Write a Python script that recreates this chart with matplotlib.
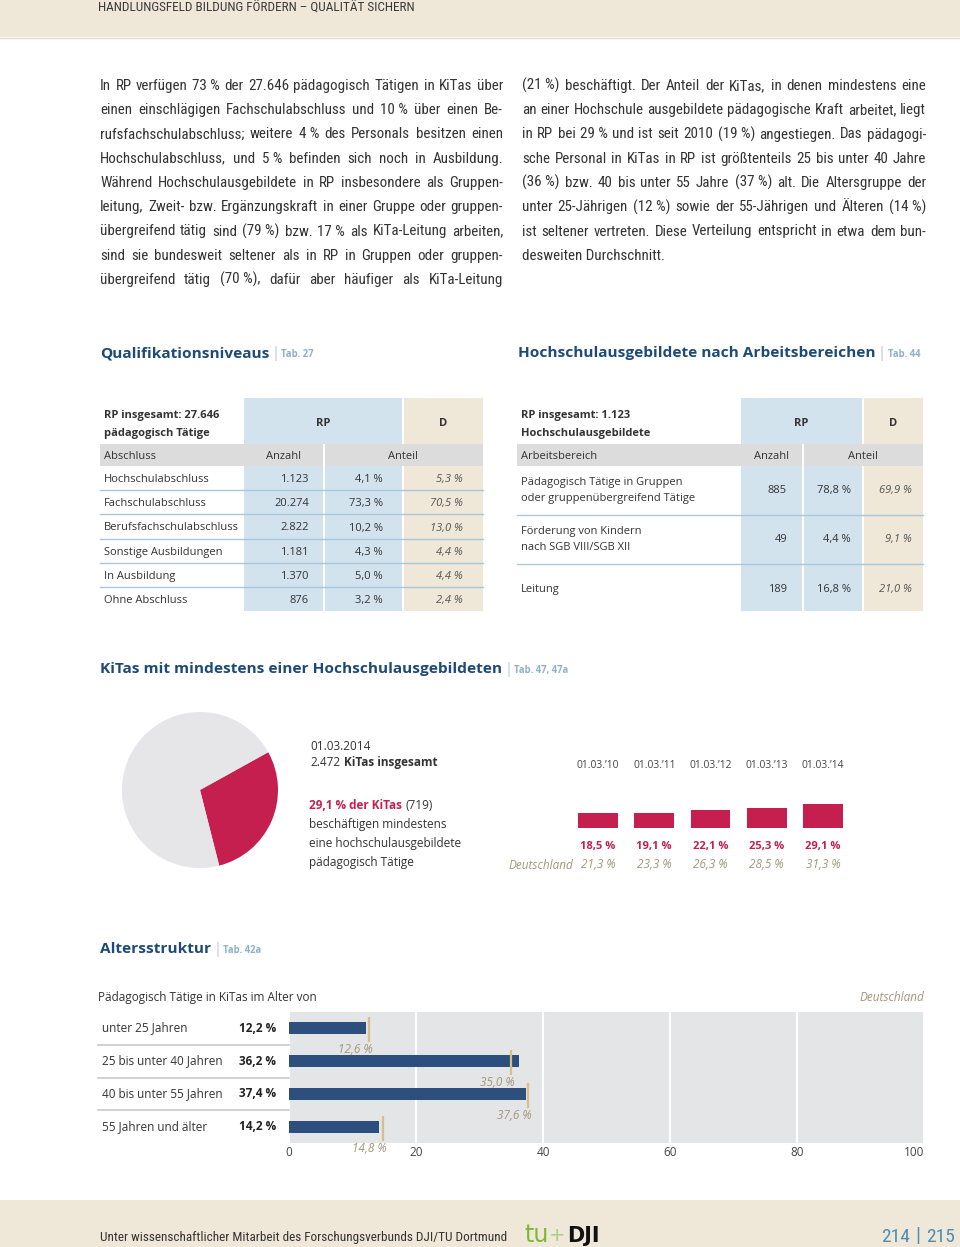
import matplotlib
matplotlib.use('Agg')
import matplotlib.pyplot as plt
from matplotlib import font_manager as fm
from matplotlib.patches import Rectangle
from matplotlib.transforms import blended_transform_factory as blend

# ---------------- data ----------------
header_title = "HANDLUNGSFELD BILDUNG FÖRDERN – QUALITÄT SICHERN"
footer_text = "Unter wissenschaftlicher Mitarbeit des Forschungsverbunds DJI/TU Dortmund"
page_numbers = ["214", "215"]

NB = "\u00a0"
body_left = [
    f"In RP verfügen 73{NB}% der 27.646 pädagogisch Tätigen in KiTas über",
    f"einen einschlägigen Fachschulabschluss und 10{NB}% über einen Be-",
    f"rufsfachschulabschluss; weitere 4{NB}% des Personals besitzen einen",
    f"Hochschulabschluss, und 5{NB}% befinden sich noch in Ausbildung.",
    "Während Hochschulausgebildete in RP insbesondere als Gruppen-",
    "leitung, Zweit- bzw. Ergänzungskraft in einer Gruppe oder gruppen-",
    f"übergreifend tätig sind (79{NB}%) bzw. 17{NB}% als KiTa-Leitung arbeiten,",
    "sind sie bundesweit seltener als in RP in Gruppen oder gruppen-",
    f"übergreifend tätig (70{NB}%), dafür aber häufiger als KiTa-Leitung",
]
body_right = [
    f"(21{NB}%) beschäftigt. Der Anteil der KiTas, in denen mindestens eine",
    "an einer Hochschule ausgebildete pädagogische Kraft arbeitet, liegt",
    f"in RP bei 29{NB}% und ist seit 2010 (19{NB}%) angestiegen. Das pädagogi-",
    "sche Personal in KiTas in RP ist größtenteils 25 bis unter 40 Jahre",
    f"(36{NB}%) bzw. 40 bis unter 55 Jahre (37{NB}%) alt. Die Altersgruppe der",
    f"unter 25-Jährigen (12{NB}%) sowie der 55-Jährigen und Älteren (14{NB}%)",
    "ist seltener vertreten. Diese Verteilung entspricht in etwa dem bun-",
    "desweiten Durchschnitt.",
]

headings = [
    ("Qualifikationsniveaus", "Tab. 27"),
    ("Hochschulausgebildete nach Arbeitsbereichen", "Tab. 44"),
    ("KiTas mit mindestens einer Hochschulausgebildeten", "Tab. 47, 47a"),
    ("Altersstruktur", "Tab. 42a"),
]

qual_title = ["RP insgesamt: 27.646", "pädagogisch Tätige"]
qual_head = ["Abschluss", "Anzahl", "Anteil"]
qual_labels = ["Hochschulabschluss", "Fachschulabschluss", "Berufsfachschulabschluss",
               "Sonstige Ausbildungen", "In Ausbildung", "Ohne Abschluss"]
qual_count = ["1.123", "20.274", "2.822", "1.181", "1.370", "876"]
qual_rp = [4.1, 73.3, 10.2, 4.3, 5.0, 3.2]
qual_d = [5.3, 70.5, 13.0, 4.4, 4.4, 2.4]

area_title = ["RP insgesamt: 1.123", "Hochschulausgebildete"]
area_head = ["Arbeitsbereich", "Anzahl", "Anteil"]
area_labels = [["Pädagogisch Tätige in Gruppen", "oder gruppenübergreifend Tätige"],
               ["Förderung von Kindern", "nach SGB VIII/SGB XII"],
               ["Leitung"]]
area_count = ["885", "49", "189"]
area_rp = [78.8, 4.4, 16.8]
area_d = [69.9, 9.1, 21.0]

kita_date = "01.03.2014"
kita_total = "2.472"
kita_share = [29.1, 70.9]
kita_count = "719"
kita_text = ["beschäftigen mindestens", "eine hochschulausgebildete", "pädagogisch Tätige"]
years = ["01.03.’10", "01.03.’11", "01.03.’12", "01.03.’13", "01.03.’14"]
kita_rp = [18.5, 19.1, 22.1, 25.3, 29.1]
kita_de = [21.3, 23.3, 26.3, 28.5, 31.3]

age_title = "Pädagogisch Tätige in KiTas im Alter von"
age_labels = ["unter 25 Jahren", "25 bis unter 40 Jahren", "40 bis unter 55 Jahren", "55 Jahren und älter"]
age_rp = [12.2, 36.2, 37.4, 14.2]
age_de = [12.6, 35.0, 37.6, 14.8]
age_ticks = [0, 20, 40, 60, 80, 100]

# ---------------- style ----------------
BEIGE = '#EFE7D7'
BLUE_T = '#D3E3EE'
GRAY = '#DCDCDC'
SEP = '#A9C7DB'
HEAD = '#1D4A78'
TABC = '#8FB1C8'
CRIM = '#C51F4F'
TAN_T = '#A3977A'
TAN_L = '#D9BE8C'
NAVY = '#2C4F7E'
CHART_BG = '#E4E5E7'
TXT = '#333333'

names = {f.name for f in fm.fontManager.ttflist}
UI = 'Open Sans' if 'Open Sans' in names else 'DejaVu Sans'
BODY = 'Roboto'
for cand in ['Liberation Sans Narrow', 'Roboto Condensed', 'Open Sans Condensed',
             'DejaVu Sans Condensed', 'Noto Sans Condensed', 'Roboto']:
    if cand in names:
        BODY = cand
        break


def pct(v, nb=NB):
    return f"{v:.1f}".replace('.', ',') + nb + "%"


W, H = 960, 1247
fig = plt.figure(figsize=(W / 100, H / 100), dpi=100)
page = fig.add_axes([0, 0, 1, 1])
page.set_xlim(0, W)
page.set_ylim(H, 0)
page.axis('off')
R = fig.canvas.get_renderer()


def ax_px(x0, y0, x1, y1):
    return fig.add_axes([x0 / W, 1 - y1 / H, (x1 - x0) / W, (y1 - y0) / H])


def T(x, y, s, **kw):
    kw.setdefault('family', UI)
    kw.setdefault('size', 8)
    kw.setdefault('color', TXT)
    kw.setdefault('va', 'baseline')
    return page.text(x, y, s, **kw)


def width(t):
    return t.get_window_extent(R).width


def runs(x, y, parts, gap=0.0, **common):
    for s, kw in parts:
        d = dict(common)
        d.update(kw)
        t = T(x, y, s, ha='left', **d)
        x += width(t) + gap
    return x


# ---------------- header / footer bands ----------------
page.add_patch(Rectangle((0, 0), W, 37, color=BEIGE, lw=0))
page.plot([0, W], [37.5, 37.5], color='#E2DACB', lw=1)
ht = T(98, 12, header_title, family=BODY, size=8, color='#3a3a3a')
ht.set_fontsize(8 * 318 / width(ht))

page.add_patch(Rectangle((0, 1200), W, 47, color=BEIGE, lw=0))
ft = T(100, 1241, footer_text, family=BODY, size=9, color='#333333')
ft.set_fontsize(9 * 408 / width(ft))
T(524, 1242, "tu", family='DejaVu Sans', size=17, color='#7AB934')
T(549, 1241, "+", family='DejaVu Sans', size=14, color='#A8D080')
T(567, 1242, "DJI", family='DejaVu Sans', size=15, weight='bold', color='#111111')
T(910, 1242, page_numbers[0], family=BODY, size=14, color='#4B8DB5', ha='right')
T(918, 1242, "|", family=BODY, size=15, color='#4B8DB5', ha='center')
T(926, 1242, page_numbers[1], family=BODY, size=14, color='#4B8DB5', ha='left')

# ---------------- body text (justified) ----------------
base = 11
maxw = 0
for ln in body_left + body_right:
    t = T(0, -100, ln.replace(NB, ' '), family=BODY, size=base)
    maxw = max(maxw, width(t))
    t.remove()
bsize = base * 398 / maxw


def justify(x0, x1, y, line, last=False):
    words = line.split(' ')
    if last or len(words) == 1:
        T(x0, y, line, family=BODY, size=bsize, color=TXT)
        return
    ts = [T(0, y, w, family=BODY, size=bsize, color=TXT) for w in words]
    ws = [width(t) for t in ts]
    gap = (x1 - x0 - sum(ws)) / (len(words) - 1)
    x = x0
    for t, wd in zip(ts, ws):
        t.set_x(x)
        x += wd + gap


for i, ln in enumerate(body_left):
    justify(100, 503, 90 + i * 24.25, ln)
for i, ln in enumerate(body_right):
    justify(522, 926, 90 + i * 24.25, ln, last=(i == len(body_right) - 1))

# ---------------- headings ----------------
tmp = T(0, -100, headings[2][0], weight='bold', size=12)
hsize = 12 * 399 / width(tmp)
tmp.remove()
head_pos = [(100, 357), (518, 357), (100, 673), (100, 953)]
for (h, tab), (x, y) in zip(headings, head_pos):
    x = runs(x, y, [(h, dict(weight='bold', size=hsize, color=HEAD))])
    T(x + 6, y, "|", size=hsize * 0.95, color='#B5C9D7', ha='center')
    T(x + 12, y, tab, size=hsize * 0.62, weight='bold', color=TABC)

# ---------------- table 1: Qualifikationsniveaus ----------------
x0, xa, xg, xc, x1 = 100, 244, 323, 404, 483
rb = [466 + 24.2 * i for i in range(len(qual_labels) + 1)]
page.add_patch(Rectangle((xa, 398), xc - 2 - xa, rb[-1] - 398, color=BLUE_T, lw=0))
page.add_patch(Rectangle((xc, 398), x1 - xc, rb[-1] - 398, color=BEIGE, lw=0))
page.add_patch(Rectangle((x0, 444), x1 - x0, 21.5, color=GRAY, lw=0))
page.add_patch(Rectangle((xg, 444), 2, rb[-1] - 444, color='white', lw=0))
for yb in rb[1:-1]:
    page.plot([x0, x1], [yb, yb], color=SEP, lw=1)
T(104, 418, qual_title[0], weight='bold')
T(104, 436, qual_title[1], weight='bold')
T((xa + xc - 2) / 2, 426, "RP", weight='bold', ha='center')
T((xc + x1) / 2, 426, "D", weight='bold', ha='center')
T(104, 459, qual_head[0])
T(284, 459, qual_head[1], ha='center')
T(403, 459, qual_head[2], ha='center')
for i in range(len(qual_labels)):
    yc = (rb[i] + rb[i + 1]) / 2 + 4
    T(104, yc, qual_labels[i])
    T(309, yc, qual_count[i], ha='right')
    T(383, yc, pct(qual_rp[i]), ha='right')
    T(463, yc, pct(qual_d[i]), ha='right', style='italic', color='#555555')

# ---------------- table 2: Arbeitsbereiche ----------------
x0, xa, xg, xc, x1 = 517, 741, 802, 864, 923
rb = [465, 514.5, 563.5, 611]
page.add_patch(Rectangle((xa, 398), xc - 2 - xa, rb[-1] - 398, color=BLUE_T, lw=0))
page.add_patch(Rectangle((xc, 398), x1 - xc, rb[-1] - 398, color=BEIGE, lw=0))
page.add_patch(Rectangle((x0, 444), x1 - x0, 21.5, color=GRAY, lw=0))
page.add_patch(Rectangle((xg, 444), 2, rb[-1] - 444, color='white', lw=0))
for yb in rb[1:-1]:
    page.plot([x0, x1], [yb, yb], color=SEP, lw=1)
T(521, 418, area_title[0], weight='bold')
T(521, 436, area_title[1], weight='bold')
T((xa + xc - 2) / 2, 426, "RP", weight='bold', ha='center')
T((xc + x1) / 2, 426, "D", weight='bold', ha='center')
T(521, 459, area_head[0])
T(771, 459, area_head[1], ha='center')
T(863, 459, area_head[2], ha='center')
row_c = [489, 538, 588]
for i in range(len(area_labels)):
    lines = area_labels[i]
    n = len(lines)
    for k, ln in enumerate(lines):
        T(521, row_c[i] + 4 + (k - (n - 1) / 2) * 16, ln)
    T(787, row_c[i] + 4, area_count[i], ha='right')
    T(851, row_c[i] + 4, pct(area_rp[i]), ha='right')
    T(912, row_c[i] + 4, pct(area_d[i]), ha='right', style='italic', color='#555555')

# ---------------- KiTas pie ----------------
pax = ax_px(122, 712, 278, 868)
pax.pie(kita_share, colors=[CRIM, '#E6E6E8'], startangle=29, counterclock=False,
        wedgeprops=dict(linewidth=0))
pax.set_xlim(-1, 1)
pax.set_ylim(-1, 1)
pax.axis('off')

T(310, 750, kita_date, size=8.5)
runs(310, 766, [(kita_total, {}), ("KiTas insgesamt", dict(weight='bold'))], gap=3.5, size=8.5)
runs(309, 809, [(pct(kita_share[0]) + " der KiTas", dict(weight='bold', color=CRIM)),
                (f"({kita_count})", {})], gap=3.5, size=8.5)
for k, ln in enumerate(kita_text):
    T(309, 828 + k * 19, ln, size=8.5)

# mini bar chart
kax = ax_px(570, 780, 851, 828)
kax.bar(range(len(kita_rp)), kita_rp, width=0.71, color=CRIM)
kax.set_xlim(-0.5, len(kita_rp) - 0.5)
kax.set_ylim(0, 48 / 0.81)
kax.axis('off')
ktr = blend(kax.transData, page.transData)
for i in range(len(years)):
    kax.text(i, 768, years[i], transform=ktr, ha='center', va='baseline',
             family=UI, size=7.4, color='#444444')
    kax.text(i, 849, pct(kita_rp[i]), transform=ktr, ha='center', va='baseline',
             family=UI, size=8, weight='bold', color=CRIM)
    kax.text(i, 868, pct(kita_de[i]), transform=ktr, ha='center', va='baseline',
             family=UI, size=8.5, style='italic', color=TAN_T)
T(573, 869, "Deutschland", size=8.5, style='italic', color=TAN_T, ha='right')

# ---------------- Altersstruktur ----------------
T(98, 1001, age_title, size=8.5)
T(924, 1001, "Deutschland", size=8.5, style='italic', color=TAN_T, ha='right')

aax = ax_px(289, 1012, 924, 1143)
pos = list(range(len(age_rp)))
aax.set_facecolor(CHART_BG)
aax.barh(pos, age_rp, height=0.36, color=NAVY, zorder=3)
aax.vlines(age_de, [p - 0.33 for p in pos], [p + 0.42 for p in pos],
           color=TAN_L, lw=1.6, zorder=4)
for p, v in zip(pos, age_de):
    aax.text(v + 0.6, p + 0.64, pct(v), ha='right', va='center', family=UI,
             size=8.5, style='italic', color=TAN_T, zorder=5)
aax.set_xlim(0, 100)
aax.set_ylim(len(pos) - 0.515, -0.485)
aax.set_xticks(age_ticks)
aax.set_xticklabels([str(t) for t in age_ticks], family=UI, size=8.5, color='#444444')
aax.get_xticklabels()[-1].set_ha('right')
aax.set_yticks([])
aax.tick_params(axis='x', length=0, pad=2.5)
aax.grid(axis='x', color='white', lw=1.5, zorder=1)
aax.set_axisbelow(True)
for s in aax.spines.values():
    s.set_visible(False)

ltr = blend(page.transData, aax.transData)
for p, lab, v in zip(pos, age_labels, age_rp):
    aax.text(102, p, lab, transform=ltr, ha='left', va='center', family=UI, size=8.5, color=TXT)
    aax.text(276, p, pct(v, ' '), transform=ltr, ha='right', va='center', family=UI,
             size=8.5, weight='bold', color='#222222')
for p in pos[:-1]:
    aax.plot([98, 289], [p + 0.5, p + 0.5], transform=ltr, clip_on=False,
             color='#C9C9C9', lw=1.2)

fig.savefig('out.png', dpi=100)
